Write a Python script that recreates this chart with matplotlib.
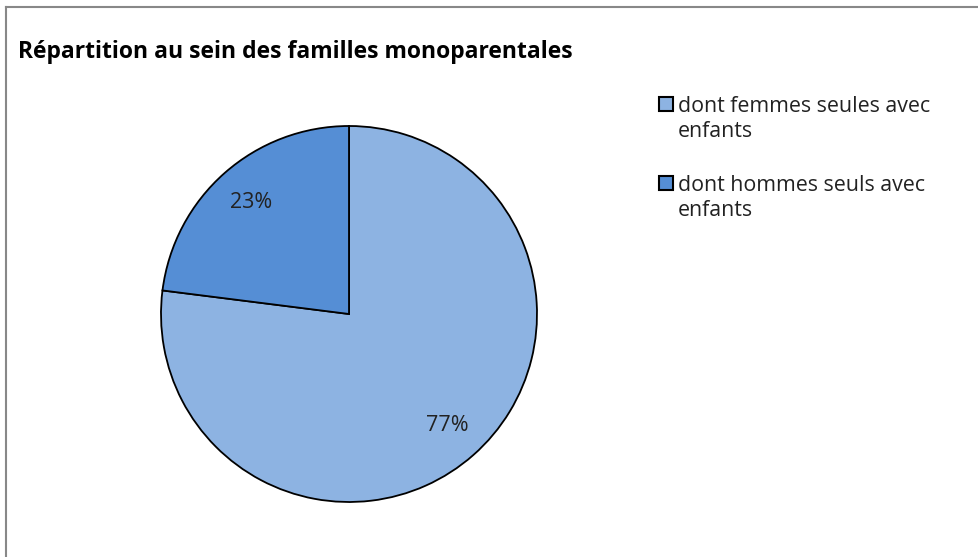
import matplotlib
matplotlib.use("Agg")
import matplotlib.pyplot as plt
from matplotlib.lines import Line2D
from matplotlib.patches import Rectangle

labels = ["dont femmes seules avec\nenfants", "dont hommes seuls avec\nenfants"]
values = [77, 23]
colors = ["#8DB3E2", "#558ED5"]
title = "Répartition au sein des familles monoparentales"

plt.rcParams['font.family'] = ['Open Sans', 'DejaVu Sans']

W, H = 979, 557
fig = plt.figure(figsize=(W / 100, H / 100), dpi=100)
ax = fig.add_axes([161 / W, 55 / H, 376 / W, 376 / H])

wedges, texts, autotexts = ax.pie(
    values, colors=colors, startangle=90, counterclock=False,
    autopct='%1.0f%%', pctdistance=0.79,
    wedgeprops=dict(edgecolor='black', linewidth=1.3),
    textprops=dict(fontsize=15.5, color='#222222'))
ax.set_xlim(-1, 1)
ax.set_ylim(-1, 1)
ax.set_aspect('equal')

fig.text(18 / W, 1 - 52 / H, title, fontsize=16.5, fontweight='bold',
         va='center', ha='left')

# legend, square key aligned with first text line
for i, (lab, col) in enumerate(zip(labels, colors)):
    y0 = 104 + i * 79
    fig.add_artist(Rectangle((659 / W, 1 - (y0 + 7) / H), 14 / W, 14 / H,
                             facecolor=col, edgecolor='black', lw=1.5,
                             transform=fig.transFigure))
    fig.text(678 / W, 1 - (y0 - 8) / H, lab, fontsize=15.4, color='#222222',
             va='top', ha='left', linespacing=1.28)

# grey frame (left and top edges visible)
fig.add_artist(Line2D([6 / W, 6 / W], [0, 1 - 7 / H], color='#888888', lw=1.5))
fig.add_artist(Line2D([6 / W, 1], [1 - 7 / H, 1 - 7 / H], color='#888888', lw=1.5))

fig.savefig("out.png", dpi=100)
